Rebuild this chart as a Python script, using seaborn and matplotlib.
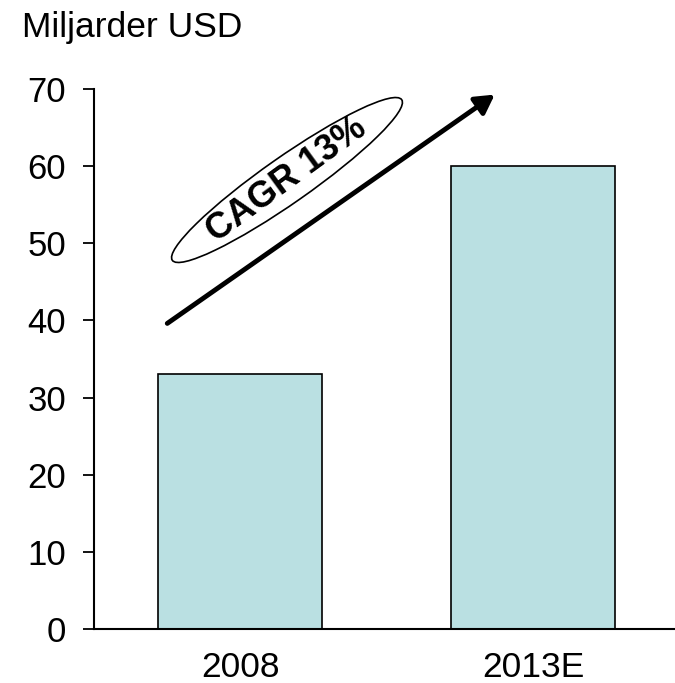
import matplotlib
matplotlib.use("Agg")
import matplotlib.pyplot as plt
import seaborn as sns
import pandas as pd
from matplotlib.patches import Ellipse, FancyArrowPatch

# data
years = ["2008", "2013E"]
values = [33, 60]
y_ticks = [0, 10, 20, 30, 40, 50, 60, 70]

sns.set_style("white")
plt.rcParams['font.family'] = ['Liberation Sans', 'DejaVu Sans']
plt.rcParams['text.color'] = 'black'
plt.rcParams['xtick.color'] = 'black'
plt.rcParams['ytick.color'] = 'black'

df = pd.DataFrame({"year": years, "value": values})

fig = plt.figure(figsize=(6.75, 6.83), dpi=100)
ax = fig.add_axes([0.139, 0.079, 0.8595, 0.7907])

sns.barplot(data=df, x="year", y="value", color="#BAE0E2", width=0.56,
            edgecolor="black", linewidth=1.2, saturation=1, ax=ax)

ax.set_xlim(-0.5, 1.48)
ax.set_ylim(0, 70)
ax.set_yticks(y_ticks)
ax.set_xlabel("")
ax.set_ylabel("")
ax.tick_params(axis="y", direction="out", length=8, width=1.3, color="black",
               pad=12, labelsize=25, left=True, labelcolor="black")
ax.tick_params(axis="x", length=0, pad=16, labelsize=25.5, labelcolor="black")
sns.despine(ax=ax)
for side in ["left", "bottom"]:
    ax.spines[side].set_color("black")
    ax.spines[side].set_linewidth(1.5)

fig.text(22 / 675, 1 - 37 / 683, "Miljarder USD", fontsize=25.5, va="baseline", ha="left",
         color="black")

# CAGR arrow and ellipse, in inches from the lower left corner
arrow = FancyArrowPatch((1.65, 3.58), (4.97, 5.90), transform=fig.dpi_scale_trans,
                        arrowstyle="-|>,head_length=0.8,head_width=0.45",
                        mutation_scale=14, linewidth=3.5, color="black")
fig.add_artist(arrow)

oval = Ellipse((2.87, 5.03), 2.80, 0.46, angle=35, transform=fig.dpi_scale_trans,
               facecolor="white", edgecolor="black", linewidth=1.2)
fig.add_artist(oval)
fig.text(2.87, 5.03, "CAGR 13%", transform=fig.dpi_scale_trans, rotation=36,
         rotation_mode="anchor", ha="center", va="center", fontsize=26,
         fontweight="bold", color="black")

fig.savefig("out.png", dpi=100)
